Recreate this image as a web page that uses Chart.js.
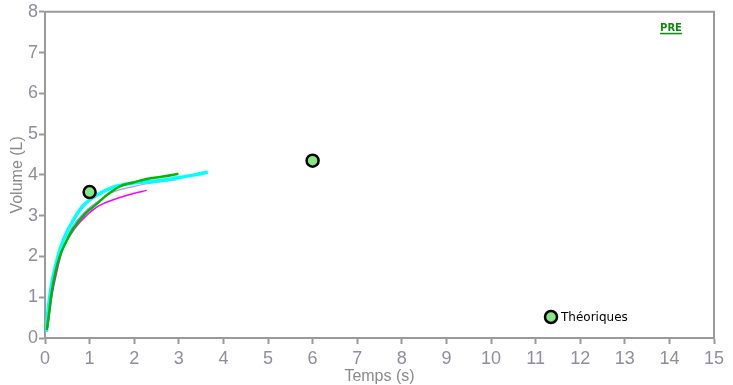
<!DOCTYPE html>
<html>
<head>
<meta charset="utf-8">
<script src="https://cdn.jsdelivr.net/npm/chart.js@4"></script>
<style>
  html, body { margin: 0; padding: 0; background: #fff; }
  #wrap { width: 733px; height: 385px; }
</style>
</head>
<body>
<div id="wrap"><canvas id="spiroChart" width="733" height="385"></canvas></div>
<script>
// Volume / time curves of the PRE trials
const cyanTime = [0.03, 0.06, 0.11, 0.18, 0.29, 0.41, 0.63, 0.86, 1.16, 1.53, 1.91, 2.3, 2.65, 3.03, 3.35, 3.65];
const cyanVolume = [0.15, 0.6, 1.05, 1.5, 2.0, 2.4, 2.88, 3.25, 3.5, 3.7, 3.79, 3.83, 3.87, 3.94, 4.0, 4.07];

const greenTime = [0.04, 0.09, 0.14, 0.22, 0.33, 0.47, 0.63, 0.9, 1.16, 1.38, 1.68, 2.0, 2.28, 2.65, 2.99];
const greenVolume = [0.2, 0.6, 1.05, 1.55, 2.0, 2.35, 2.68, 3.05, 3.29, 3.5, 3.72, 3.82, 3.9, 3.96, 4.03];

const blueTime = [0.05, 0.1, 0.2, 0.35, 0.6, 0.9, 1.16, 1.53, 2.0, 2.5, 2.95];
const blueVolume = [0.3, 0.9, 1.5, 2.05, 2.7, 3.1, 3.33, 3.58, 3.72, 3.82, 3.88];

const magentaTime = [0.06, 0.15, 0.26, 0.4, 0.55, 0.78, 1.16, 1.53, 1.9, 2.28];
const magentaVolume = [0.25, 1.0, 1.6, 2.2, 2.5, 2.84, 3.21, 3.39, 3.52, 3.62];

// Predicted (theoretical) points
const theoTime = [1, 6];
const theoVolume = [3.58, 4.35];

const xTicks = [0, 1, 2, 3, 4, 5, 6, 7, 8, 9, 10, 11, 12, 13, 14, 15];
const yTicks = [0, 1, 2, 3, 4, 5, 6, 7, 8];

const legendLabel = 'Théoriques';
const trialLabel = 'PRE';

const TICK_COLOR = '#8e8f98';
const AXIS_COLOR = '#9a9a9a';
const POINT_FILL = '#82e882';
const SANS = "'Liberation Sans', Arial, sans-serif";

function toPoints(xs, ys) {
  return xs.map((x, i) => ({ x: x, y: ys[i] }));
}

function curve(label, xs, ys, color, width, order) {
  return {
    type: 'line',
    label: label,
    data: toPoints(xs, ys),
    borderColor: color,
    backgroundColor: color,
    borderWidth: width,
    pointRadius: 0,
    cubicInterpolationMode: 'monotone',
    fill: false,
    order: order
  };
}

// Frame on top/right, legend marker and the PRE tag
const decorations = {
  id: 'decorations',
  afterDraw(chart) {
    const ctx = chart.ctx;
    const area = chart.chartArea;
    ctx.save();

    ctx.strokeStyle = AXIS_COLOR;
    ctx.lineWidth = 2;
    ctx.beginPath();
    ctx.moveTo(area.left, area.top);
    ctx.lineTo(area.right, area.top);
    ctx.lineTo(area.right, area.bottom);
    ctx.stroke();

    // legend entry
    const lx = area.right - 163;
    const ly = area.bottom - 21;
    ctx.fillStyle = POINT_FILL;
    ctx.strokeStyle = '#000';
    ctx.lineWidth = 2.5;
    ctx.beginPath();
    ctx.arc(lx, ly, 6, 0, Math.PI * 2);
    ctx.fill();
    ctx.stroke();
    ctx.fillStyle = '#000';
    ctx.font = "12px 'DejaVu Sans'";
    ctx.textAlign = 'left';
    ctx.textBaseline = 'middle';
    ctx.fillText(legendLabel, lx + 10, ly + 1);

    // PRE tag, bold green underlined
    ctx.font = "bold 10px 'DejaVu Sans'";
    ctx.fillStyle = '#118811';
    ctx.textAlign = 'center';
    ctx.textBaseline = 'alphabetic';
    const px = area.right - 43;
    const py = area.top + 19;
    ctx.fillText(trialLabel, px, py);
    const w = ctx.measureText(trialLabel).width;
    ctx.fillRect(px - w / 2, py + 2, w, 1.5);

    ctx.restore();
  }
};

const ctx = document.getElementById('spiroChart').getContext('2d');

new Chart(ctx, {
  data: {
    datasets: [
      {
        type: 'scatter',
        label: legendLabel,
        data: toPoints(theoTime, theoVolume),
        pointRadius: 6,
        pointBackgroundColor: POINT_FILL,
        pointBorderColor: '#000',
        pointBorderWidth: 2.5,
        order: 0
      },
      curve('Essai 1', greenTime, greenVolume, '#00b800', 2.5, 1),
      curve('Essai 2', cyanTime, cyanVolume, '#00ffff', 3.5, 2),
      curve('Essai 3', blueTime, blueVolume, '#9c9cff', 1.2, 3),
      curve('Essai 4', magentaTime, magentaVolume, '#ff00ff', 1.5, 4)
    ]
  },
  options: {
    responsive: false,
    animation: false,
    layout: { padding: { top: 11, right: 19, left: 0, bottom: 0 } },
    plugins: {
      legend: { display: false },
      tooltip: { enabled: false }
    },
    scales: {
      x: {
        type: 'linear',
        min: 0,
        max: 15,
        afterBuildTicks: axis => { axis.ticks = xTicks.map(v => ({ value: v })); },
        afterFit: axis => { axis.height = 47; },
        grid: { drawOnChartArea: false, color: AXIS_COLOR, tickLength: 6, tickWidth: 2 },
        border: { color: AXIS_COLOR, width: 2 },
        ticks: {
          color: TICK_COLOR,
          font: { family: SANS, size: 18, lineHeight: 1 },
          padding: 6,
          maxRotation: 0
        },
        title: {
          display: true,
          text: 'Temps (s)',
          color: '#8a8a8a',
          font: { family: SANS, size: 16, lineHeight: 1 },
          padding: { top: -4, bottom: 0 }
        }
      },
      y: {
        type: 'linear',
        min: 0,
        max: 8,
        afterBuildTicks: axis => { axis.ticks = yTicks.map(v => ({ value: v })); },
        afterFit: axis => { axis.width = 45; },
        grid: { drawOnChartArea: false, color: AXIS_COLOR, tickLength: 6, tickWidth: 2 },
        border: { color: AXIS_COLOR, width: 2 },
        ticks: {
          color: TICK_COLOR,
          font: { family: SANS, size: 18 },
          padding: 1
        },
        title: {
          display: true,
          text: 'Volume (L)',
          color: '#8a8a8a',
          font: { family: SANS, size: 16, lineHeight: 1 },
          padding: { top: 10, bottom: 0 }
        }
      }
    }
  },
  plugins: [decorations]
});
</script>
</body>
</html>
